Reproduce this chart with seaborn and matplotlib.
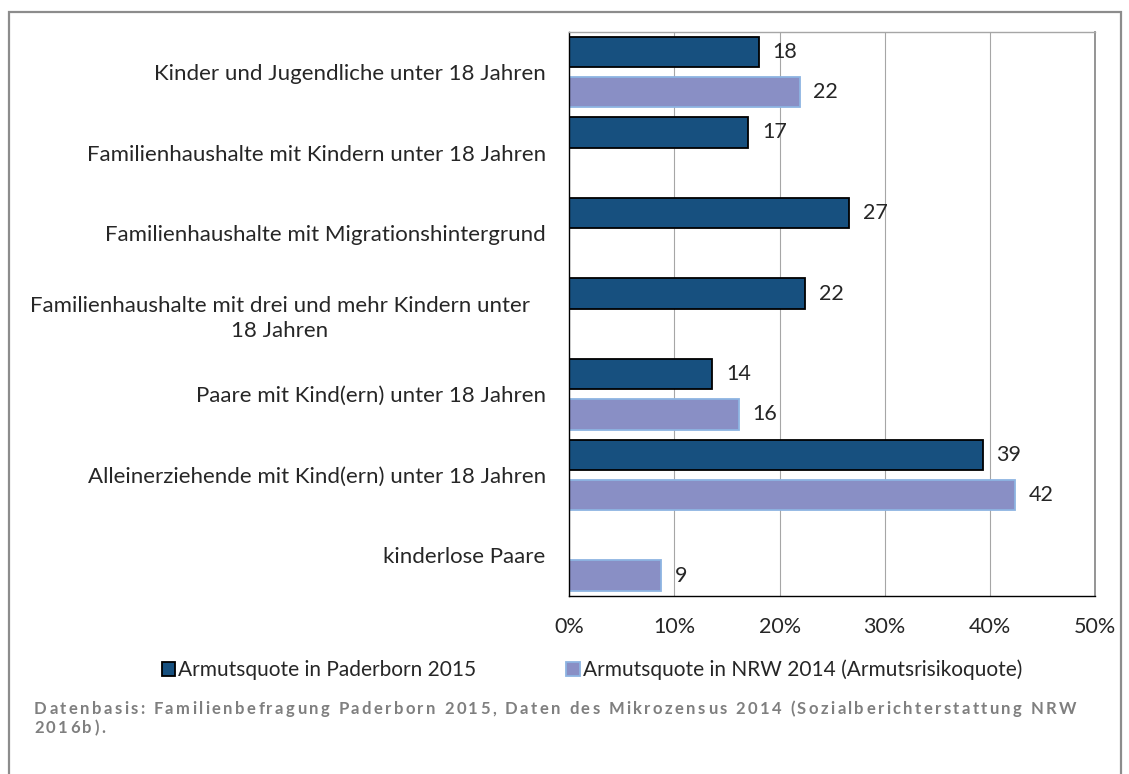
import numpy as np
import pandas as pd
import matplotlib
matplotlib.use("Agg")
import matplotlib.pyplot as plt
import matplotlib.transforms as mtransforms
from matplotlib import font_manager, ft2font
from matplotlib.patches import Patch, Rectangle
from matplotlib.ticker import FuncFormatter
import seaborn as sns

# ---- data -------------------------------------------------------------
categories = [
    "Kinder und Jugendliche unter 18 Jahren",
    "Familienhaushalte mit Kindern unter 18 Jahren",
    "Familienhaushalte mit Migrationshintergrund",
    "Familienhaushalte mit drei und mehr Kindern unter\n18 Jahren",
    "Paare mit Kind(ern) unter 18 Jahren",
    "Alleinerziehende mit Kind(ern) unter 18 Jahren",
    "kinderlose Paare",
]
series_names = [
    "Armutsquote in Paderborn 2015",
    "Armutsquote in NRW 2014 (Armutsrisikoquote)",
]
paderborn_2015 = [18.0, 17.0, 26.6, 22.4, 13.6, 39.3, np.nan]
nrw_2014 = [21.9, np.nan, np.nan, np.nan, 16.1, 42.4, 8.7]
x_ticks = [0, 10, 20, 30, 40, 50]
source_lines = [
    "Datenbasis: Familienbefragung Paderborn 2015, Daten des Mikrozensus 2014 (Sozialberichterstattung NRW",
    "2016b).",
]

# ---- style ------------------------------------------------------------
W, H, DPI = 1129, 774, 100
FONT = "Lato"
FS = 16
TEXT = "#262626"
fill_colors = {series_names[0]: "#17507F", series_names[1]: "#898FC5"}
edge_colors = {series_names[0]: "#000000", series_names[1]: "#8DB4E2"}

sns.set_style("white")
plt.rcParams["font.family"] = [FONT, "DejaVu Sans"]
plt.rcParams["text.color"] = TEXT
plt.rcParams["xtick.color"] = TEXT
plt.rcParams["ytick.color"] = TEXT

df = pd.DataFrame({
    "Kategorie": categories * 2,
    "Reihe": [s for s in series_names for _ in categories],
    "Wert": paderborn_2015 + nrw_2014,
}).dropna()

fig = plt.figure(figsize=(W / DPI, H / DPI), dpi=DPI)
fig.patch.set_facecolor("white")

# plot area in pixel units
left, right, top, bottom = 569.3, 1095.0, 31.7, 595.7
ax = fig.add_axes([left / W, 1 - bottom / H, (right - left) / W, (bottom - top) / H])

sns.barplot(
    data=df, x="Wert", y="Kategorie", hue="Reihe",
    order=categories, hue_order=series_names,
    palette=fill_colors, saturation=1, width=1.0, gap=0.25,
    orient="h", errorbar=None, legend=False, ax=ax,
)

for name, cont in zip(series_names, ax.containers):
    for p in cont:
        p.set_edgecolor(edge_colors[name])
        p.set_linewidth(1.3)
    ax.bar_label(cont, labels=[f"{v:.0f}" for v in cont.datavalues],
                 padding=10, fontsize=15.5, color=TEXT)

ax.set_xlim(0, 50)
ax.set_ylim(6.5, -0.5)
ax.set_xlabel("")
ax.set_ylabel("")

ax.set_xticks(x_ticks)
ax.xaxis.set_major_formatter(FuncFormatter(lambda v, _: f"{v:.0f}%"))
ax.tick_params(axis="x", which="major", length=4, width=0.8, color="#868686",
               direction="out", pad=11, labelsize=15.5)

ax.set_yticks(range(len(categories)))
ax.set_yticklabels(categories, fontsize=FS)
ax.set_yticks(np.arange(-0.5, len(categories), 1.0), minor=True)
ax.tick_params(axis="y", which="major", length=0, pad=17)
ax.tick_params(axis="y", which="minor", length=4, width=0.8, color="#868686",
               direction="out")
for lab in ax.get_yticklabels():
    lab.set_multialignment("center")
    lab.set_linespacing(1.3)
# the wrapped label sits a bit further left
wrapped = ax.get_yticklabels()[3]
wrapped.set_transform(wrapped.get_transform()
                      + mtransforms.ScaledTranslation(-16 / DPI, 0, fig.dpi_scale_trans))

ax.xaxis.grid(True, color="#A6A6A6", linewidth=0.8)
ax.yaxis.grid(False)
ax.set_axisbelow(True)

ax.spines["left"].set_color("#000000")
ax.spines["bottom"].set_color("#000000")
ax.spines["left"].set_linewidth(1.0)
ax.spines["bottom"].set_linewidth(1.0)
ax.spines["top"].set_color("#A6A6A6")
ax.spines["right"].set_color("#8C8C8C")
ax.spines["top"].set_linewidth(1.0)
ax.spines["right"].set_linewidth(1.3)

# legend below the plot, right end of the text near x = 1020 px
handles = [Patch(facecolor=fill_colors[s], edgecolor=edge_colors[s], linewidth=1.3)
           for s in series_names]
fig.legend(handles, series_names, loc="center right", ncol=2, frameon=False,
           bbox_to_anchor=(1022 / W, 1 - 670 / H), fontsize=15,
           handlelength=0.65, handleheight=0.65, handletextpad=0.15,
           columnspacing=4.3, borderaxespad=0, borderpad=0)

# outer frame of the figure (open at the bottom edge)
fig.patches.append(Rectangle((9 / W, -0.05), (1121 - 9) / W, 1 - 12 / H + 0.05,
                             transform=fig.transFigure, fill=False,
                             edgecolor="#8C8C8C", linewidth=1.6))

# source note: bold grey text with wide letter spacing
note_prop = font_manager.FontProperties(family=FONT, weight="bold", size=12)


def advances(text, prop):
    font = ft2font.FT2Font(font_manager.findfont(prop), hinting_factor=1)
    font.set_size(prop.get_size_in_points(), DPI)
    flags = (ft2font.LoadFlags.NO_HINTING if hasattr(ft2font, "LoadFlags")
             else ft2font.LOAD_NO_HINTING)
    return [font.load_char(ord(c), flags=flags).linearHoriAdvance / 65536 for c in text]


note_x0, note_x1 = 34.0, 1077.0
adv0 = advances(source_lines[0], note_prop)
tracking = (note_x1 - note_x0 - sum(adv0)) / (len(source_lines[0]) - 1)
for line, base_y in zip(source_lines, [714.0, 733.0]):
    x = note_x0
    for ch, a in zip(line, advances(line, note_prop)):
        fig.text(x / W, 1 - base_y / H, ch, fontproperties=note_prop,
                 color="#7F7F7F", ha="left", va="baseline")
        x += a + tracking

fig.savefig("out.png", dpi=DPI)
